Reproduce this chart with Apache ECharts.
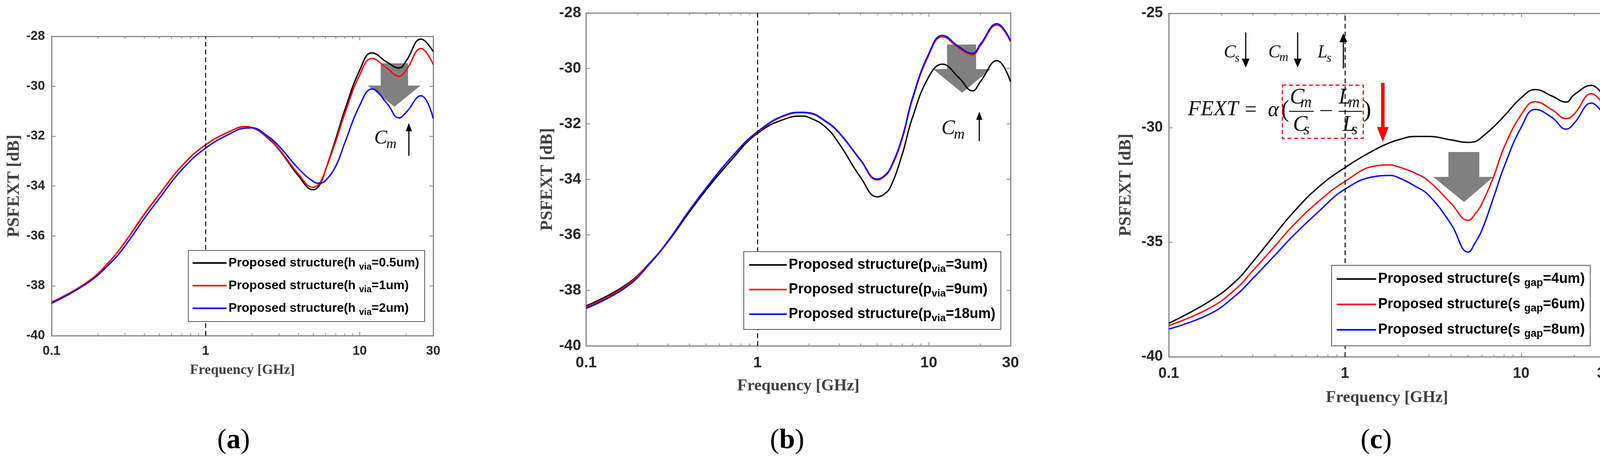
<!DOCTYPE html>
<html>
<head>
<meta charset="utf-8">
<title>PSFEXT vs frequency</title>
<script src="https://cdn.jsdelivr.net/npm/echarts@6/dist/echarts.min.js"></script>
<style>
  html, body { margin: 0; padding: 0; background: #fff; }
  #chart { width: 4146px; height: 1190px; }
</style>
</head>
<body>
<div id="chart"></div>
<script>
// frequency points (GHz), shared by all curves
const freq = [0.1, 0.17, 0.24, 0.3, 0.4, 0.5, 0.7, 1, 1.5, 1.8, 2, 2.5, 3, 4, 5, 5.5, 6, 7, 8, 10, 12, 15, 18, 20, 25, 30];

// (a) via height
const hVia05 = [-38.66, -37.86, -37.0, -36.25, -35.14, -34.34, -33.2, -32.35, -31.76, -31.62, -31.66, -32.05, -32.55, -33.59, -34.15, -33.95, -33.35, -32.1, -30.96, -29.36, -28.66, -29.03, -29.27, -28.99, -28.11, -28.61];
const hVia1  = [-38.66, -37.86, -37.0, -36.24, -35.12, -34.33, -33.2, -32.35, -31.76, -31.62, -31.66, -32.03, -32.52, -33.52, -34.05, -33.88, -33.35, -32.2, -31.1, -29.55, -28.89, -29.27, -29.6, -29.36, -28.49, -29.13];
const hVia2  = [-38.7, -37.9, -37.1, -36.4, -35.3, -34.5, -33.35, -32.48, -31.85, -31.68, -31.67, -31.98, -32.41, -33.3, -33.82, -33.89, -33.78, -33.2, -32.27, -30.77, -30.11, -30.68, -31.27, -31.05, -30.38, -31.29];

// (b) via pitch
const pVia3  = [-38.56, -37.81, -36.95, -36.25, -35.18, -34.39, -33.32, -32.34, -31.79, -31.72, -31.77, -32.12, -32.72, -33.93, -34.63, -34.53, -34.25, -33.09, -31.8, -30.3, -29.85, -30.34, -30.81, -30.48, -29.72, -30.48];
const pVia9  = [-38.6, -37.85, -36.95, -36.22, -35.12, -34.32, -33.23, -32.3, -31.67, -31.6, -31.62, -31.92, -32.34, -33.32, -34.02, -33.9, -33.6, -32.53, -31.15, -29.52, -28.86, -29.27, -29.51, -29.18, -28.44, -29.04];
const pVia18 = [-38.65, -37.9, -36.98, -36.23, -35.12, -34.32, -33.22, -32.28, -31.65, -31.58, -31.6, -31.9, -32.32, -33.3, -33.99, -33.87, -33.56, -32.48, -31.1, -29.47, -28.81, -29.22, -29.46, -29.13, -28.39, -29.0];

// (c) signal gap
const sGap4 = [-38.54, -37.58, -36.7, -35.85, -34.66, -33.76, -32.62, -31.74, -30.93, -30.65, -30.53, -30.38, -30.38, -30.53, -30.64, -30.6, -30.4, -29.95, -29.49, -28.69, -28.33, -28.62, -28.88, -28.55, -28.15, -28.76];
const sGap6 = [-38.64, -37.88, -37.04, -36.24, -35.17, -34.32, -33.25, -32.34, -31.66, -31.62, -31.7, -31.98, -32.34, -33.3, -34.04, -33.75, -33.3, -32.1, -30.85, -29.43, -28.86, -29.22, -29.6, -29.4, -28.51, -29.12];
const sGap8 = [-38.79, -38.14, -37.32, -36.58, -35.57, -34.77, -33.7, -32.68, -32.12, -32.08, -32.17, -32.55, -32.96, -34.21, -35.43, -35.0, -34.45, -33.0, -31.7, -29.98, -29.2, -29.56, -30.06, -29.8, -28.92, -29.57];

const namesA = ['Proposed structure(h_via=0.5um)', 'Proposed structure(h_via=1um)', 'Proposed structure(h_via=2um)'];
const namesB = ['Proposed structure(p_via=3um)', 'Proposed structure(p_via=9um)', 'Proposed structure(p_via=18um)'];
const namesC = ['Proposed structure(s_gap=4um)', 'Proposed structure(s_gap=6um)', 'Proposed structure(s_gap=8um)'];
const colors = ['#000000', '#ff0000', '#0000ff'];

const minorTicks = [0.2, 0.3, 0.4, 0.5, 0.6, 0.7, 0.8, 0.9, 2, 3, 4, 5, 6, 7, 8, 9, 20];
const xMin = 0.1, xMax = 30;

const panels = [
  { grid: { left: 132, top: 93, width: 977, height: 766 }, yMin: -40, yMax: -28, yStep: 2,
    names: namesA, data: [hVia05, hVia1, hVia2],
    tickFont: 33, nameFont: 36, xLabelMargin: 23, yLabelMargin: 17, xNameGap: 71, yNameGap: 73,
    leg: { left: 482, top: 641, itemWidth: 87, font: 32, lh: 44, subFont: 23, subLh: 10, gap: 14, padding: [10, 14, 12, 11], space: true } },
  { grid: { left: 1500.6, top: 33, width: 1086.4, height: 852 }, yMin: -40, yMax: -28, yStep: 2,
    names: namesB, data: [pVia3, pVia9, pVia18],
    tickFont: 39, nameFont: 42, xLabelMargin: 25, yLabelMargin: 13, xNameGap: 82, yNameGap: 77,
    leg: { left: 1904, top: 644, itemWidth: 96, font: 36, lh: 48, subFont: 26, subLh: 22, gap: 15, padding: [10, 14, 15, 14], space: false } },
  { grid: { left: 2992, top: 34, width: 1117.5, height: 879 }, yMin: -40, yMax: -25, yStep: 5,
    names: namesC, data: [sGap4, sGap6, sGap8],
    tickFont: 38, nameFont: 42, xLabelMargin: 25, yLabelMargin: 15, xNameGap: 84, yNameGap: 87,
    leg: { left: 3409, top: 679, itemWidth: 101, font: 36, lh: 48, subFont: 27, subLh: 12, gap: 17, padding: [11, 14, 17, 13], space: true } }
];

const boxColor = '#858585';
const tickColor = '#262626';
const nameColor = '#404040';

const grids = [], xAxes = [], yAxes = [], series = [], legends = [];

panels.forEach((p, i) => {
  grids.push(Object.assign({ containLabel: false }, p.grid));

  const xCommon = {
    type: 'log', logBase: 10, min: xMin, max: xMax, gridIndex: i,
    axisLine: { lineStyle: { color: boxColor, width: 3 } },
    axisTick: { inside: true, length: 10, lineStyle: { color: boxColor, width: 2 } },
    splitLine: { show: false }
  };
  xAxes.push(Object.assign({}, xCommon, {
    position: 'bottom',
    axisLabel: {
      margin: p.xLabelMargin, fontSize: p.tickFont, fontWeight: 'bold',
      fontFamily: 'Liberation Sans', color: tickColor,
      formatter: v => String(+(+v).toPrecision(3))
    },
    name: 'Frequency [GHz]', nameLocation: 'middle', nameGap: p.xNameGap,
    nameTextStyle: { fontSize: p.nameFont, fontWeight: 'bold', fontFamily: 'Liberation Serif', color: nameColor }
  }));
  xAxes.push(Object.assign({}, xCommon, { position: 'top', axisLabel: { show: false } }));

  const yCommon = {
    type: 'value', min: p.yMin, max: p.yMax, interval: p.yStep, gridIndex: i,
    axisLine: { show: true, lineStyle: { color: boxColor, width: 3 } },
    axisTick: { show: true, inside: true, length: 10, lineStyle: { color: boxColor, width: 2 } },
    splitLine: { show: false }
  };
  yAxes.push(Object.assign({}, yCommon, {
    position: 'left',
    axisLabel: { margin: p.yLabelMargin, fontSize: p.tickFont, fontWeight: 'bold', fontFamily: 'Liberation Sans', color: tickColor },
    name: 'PSFEXT [dB]', nameLocation: 'middle', nameGap: p.yNameGap,
    nameTextStyle: { fontSize: 44, fontWeight: 'bold', fontFamily: 'Liberation Serif', color: nameColor }
  }));
  yAxes.push(Object.assign({}, yCommon, { position: 'right', axisLabel: { show: false } }));

  p.names.forEach((name, k) => {
    const s = {
      type: 'line', name: name, xAxisIndex: 2 * i, yAxisIndex: 2 * i,
      data: freq.map((f, j) => [f, p.data[k][j]]),
      symbol: 'none', smooth: 0.45, z: 3,
      lineStyle: { color: colors[k], width: 3.5 },
      itemStyle: { color: colors[k] }
    };
    if (k === 0) {
      s.markLine = {
        silent: true, symbol: 'none', label: { show: false },
        lineStyle: { color: '#000', width: 2.5, type: [12, 8] },
        data: [{ xAxis: 1 }]
      };
    }
    series.push(s);
  });

  // minor log ticks on bottom and top edges
  series.push({
    type: 'custom', name: 'minor' + i, xAxisIndex: 2 * i, yAxisIndex: 2 * i, silent: true, z: 4,
    data: minorTicks.map(v => [v, p.yMin]),
    renderItem: (params, api) => {
      const cs = params.coordSys;
      const x = api.coord([api.value(0), p.yMin])[0];
      const b = cs.y + cs.height, t = cs.y;
      const st = { stroke: boxColor, lineWidth: 2 };
      return { type: 'group', children: [
        { type: 'line', shape: { x1: x, y1: b, x2: x, y2: b - 6 }, style: st },
        { type: 'line', shape: { x1: x, y1: t, x2: x, y2: t + 6 }, style: st }
      ] };
    }
  });

  const L = p.leg;
  legends.push({
    data: p.names, orient: 'vertical', left: L.left, top: L.top,
    icon: 'rect', itemWidth: L.itemWidth, itemHeight: 4, itemGap: L.gap, padding: L.padding,
    backgroundColor: '#fff', borderColor: '#555', borderWidth: 2, borderRadius: 0,
    selectedMode: false, z: 6,
    formatter: n => n.replace(/_([a-z]+)=/, (m, sub) => (L.space ? ' ' : '') + '{sub|' + sub + '}='),
    textStyle: {
      fontSize: L.font, fontWeight: 'bold', fontFamily: 'Liberation Sans', color: '#000', lineHeight: L.lh,
      rich: { sub: { fontSize: L.subFont, fontWeight: 'bold', fontFamily: 'Liberation Sans', color: '#000', lineHeight: L.subLh, verticalAlign: 'bottom' } }
    }
  });
});

// ---- annotations ----
const gray = '#808080';
function blockArrow(sl, sr, top, base, hl, hr, tipx, tipy) {
  return { type: 'polygon', z: 1, silent: true,
    shape: { points: [[sl, top], [sr, top], [sr, base], [hr, base], [tipx, tipy], [hl, base], [sl, base]] },
    style: { fill: gray } };
}
function thinArrow(x, yFrom, yTip, color, lw, hw, hh) {
  const dir = yTip > yFrom ? 1 : -1;
  return [
    { type: 'line', z: 20, silent: true, shape: { x1: x, y1: yFrom, x2: x, y2: yTip - dir * hh * 0.8 }, style: { stroke: color, lineWidth: lw } },
    { type: 'polygon', z: 20, silent: true, shape: { points: [[x - hw / 2, yTip - dir * hh], [x + hw / 2, yTip - dir * hh], [x, yTip]] }, style: { fill: color } }
  ];
}
function mathText(x, y, text, size, align, italic) {
  return { type: 'text', z: 20, silent: true, x: x, y: y,
    style: { text: text, fontSize: size, fontFamily: 'Liberation Serif', fontStyle: italic === false ? 'normal' : 'italic',
      fill: '#111', align: align || 'left', verticalAlign: 'middle' } };
}
function hline(x1, x2, y, color, lw) {
  return { type: 'line', z: 20, silent: true, shape: { x1: x1, y1: y, x2: x2, y2: y }, style: { stroke: color || '#111', lineWidth: lw || 2.5 } };
}
function caption(x, letter) {
  return { type: 'text', z: 20, silent: true, x: x, y: 1128,
    style: { text: '({b|' + letter + '})', fontSize: 72, fontFamily: 'Liberation Serif', fill: '#000', align: 'center', verticalAlign: 'middle',
      rich: { b: { fontSize: 72, fontWeight: 'bold', fontFamily: 'Liberation Serif', fill: '#000' } } } };
}

const graphics = [
  // big gray arrows
  blockArrow(974.6, 1044.7, 162, 219, 941, 1076.6, 1009.7, 273),
  blockArrow(2424.5, 2498.8, 114, 177, 2389, 2536, 2463, 237.5),
  blockArrow(3708, 3787, 389, 452.7, 3669, 3823, 3748, 517),
  // C_m arrows in (a) and (b)
  mathText(958, 354, 'C', 50), mathText(989, 370, 'm', 36),
  ...thinArrow(1046.7, 398.7, 314.8, '#000', 3, 16, 21),
  mathText(2410, 329, 'C', 52), mathText(2442, 345, 'm', 38),
  ...thinArrow(2507, 361, 285.7, '#000', 3, 16, 21),
  // (c) top row: Cs down, Cm down, Ls up
  mathText(3133, 135, 'C', 46), mathText(3161, 150, 's', 32),
  ...thinArrow(3189, 83, 173, '#000', 3, 20, 23),
  mathText(3247, 135, 'C', 46), mathText(3275, 148, 'm', 32),
  ...thinArrow(3322, 83, 173, '#000', 3, 20, 23),
  mathText(3373, 135, 'L', 46), mathText(3396, 150, 's', 32),
  ...thinArrow(3439, 175, 85, '#000', 3, 20, 23),
  // (c) formula
  mathText(3041, 281, 'FEXT', 54),
  mathText(3202, 283, '=', 54, 'center', false),
  mathText(3260, 283, 'α', 54, 'center'),
  mathText(3290, 283, '(', 62, 'center', false),
  mathText(3302, 250, 'C', 56), mathText(3329, 263, 'm', 40),
  hline(3300, 3363, 285),
  mathText(3310, 320, 'C', 56), mathText(3337, 333, 's', 40),
  hline(3380, 3410, 283),
  mathText(3427, 250, 'L', 56), mathText(3452, 263, 'm', 40),
  hline(3427, 3487, 285),
  mathText(3437, 320, 'L', 56), mathText(3460, 333, 's', 40),
  mathText(3500, 283, ')', 62, 'center', false),
  { type: 'rect', z: 21, silent: true, shape: { x: 3283, y: 218, width: 207, height: 136 },
    style: { fill: 'none', stroke: '#ff0000', lineWidth: 3, lineDash: [10, 7] } },
  ...thinArrow(3540, 212, 363, '#ff0000', 9, 30, 38),
  caption(598, 'a'), caption(2015, 'b'), caption(3523, 'c')
];

const chart = echarts.init(document.getElementById('chart'), null, { renderer: 'canvas' });
chart.setOption({
  backgroundColor: '#fff',
  animation: false,
  grid: grids,
  xAxis: xAxes,
  yAxis: yAxes,
  legend: legends,
  series: series,
  graphic: { elements: graphics }
});
</script>
</body>
</html>
